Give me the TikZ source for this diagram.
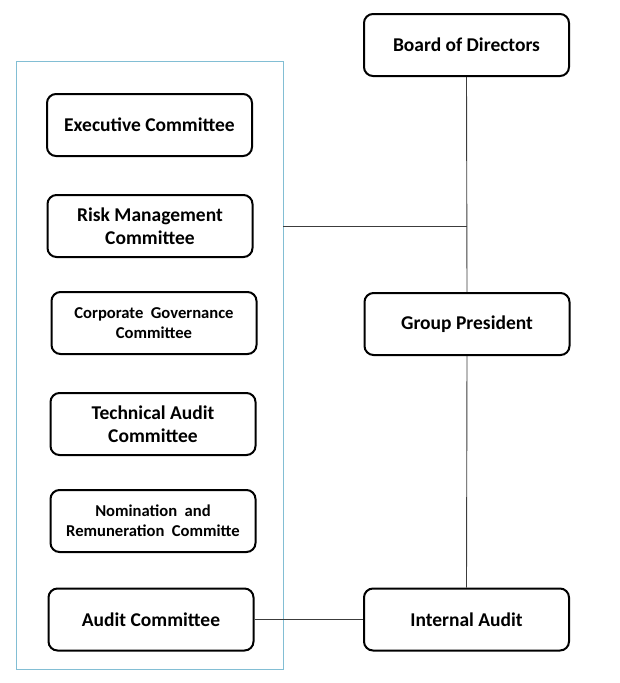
\documentclass[tikz,border=0pt]{standalone}
\usepackage{fontspec}
\setmainfont{Carlito}
\usepackage{xcolor}
\usepackage{tikz}

\definecolor{framecol}{RGB}{130,190,212}
\definecolor{linecol}{RGB}{60,60,60}

\begin{document}
\begin{tikzpicture}[x=1pt,y=-1pt,
    box/.style={draw, line width=2pt, rounded corners=9pt, minimum width=205pt,
        minimum height=62pt, align=center, inner sep=0pt,
        font=\bfseries\fontsize{19.5}{23.4}\selectfont},
    smallbox/.style={box, font=\bfseries\fontsize{16.6}{20}\selectfont},
    link/.style={draw=linecol, line width=0.9pt}]
            \useasboundingbox (0,0) rectangle (619,683);

            % committees
            \draw[framecol, line width=1pt] (16.5,61.5) rectangle (283,669);

            \node[box] (exec) at (149.5,125) {Executive Committee};
            \node[box] (risk) at (150,226) {Risk Management\\Committee};
            \node[smallbox] (corp) at (154,323) {Corporate~~Governance\\Committee};
            \node[box] (tech) at (153,424) {Technical Audit\\Committee};
            \node[smallbox] (nomi) at (153,521) {Nomination~~and\\Remuneration~~Committe};
            \node[box] (audc) at (151,619.5) {Audit Committee};

            % main line
            \node[box] (board) at (466.5,45) {Board of Directors};
            \node[box] (group) at (467,324) {Group President};
            \node[box] (inaud) at (466.5,619.5) {Internal Audit};

            \coordinate (fr) at (283,226.5);

            \draw[link] (board.south) -- (group.north);
            \draw[link] (fr) -- (fr -| board.south);
            \draw[link] (group.south) -- (inaud.north);
            \draw[link] (audc.east) -- (inaud.west);

            \end{tikzpicture}
\end{document}
